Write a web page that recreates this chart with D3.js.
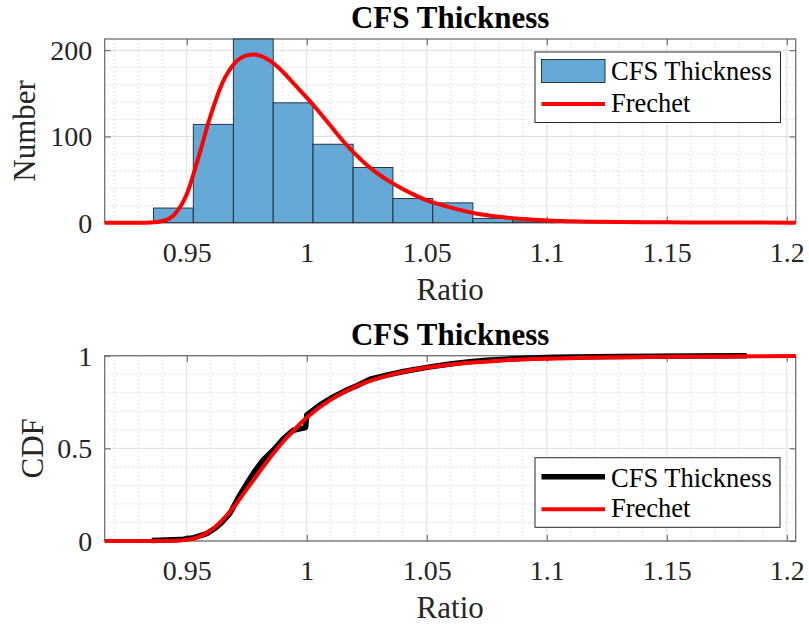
<!DOCTYPE html>
<html>
<head>
<meta charset="utf-8">
<script src="https://cdn.jsdelivr.net/npm/d3@7"></script>
<style>
  body { margin: 0; background: #fff; }
  svg { display: block; }
  svg text { font-family: 'Liberation Serif', 'Times New Roman', serif !important; }
</style>
</head>
<body>
<svg width="809" height="625"></svg>
<script>
// ---- data ----
const binEdges = [0.9361, 0.9527, 0.9694, 0.9860, 1.0026, 1.0193, 1.0359, 1.0525,
  1.0692, 1.0858, 1.1024, 1.1191, 1.1357, 1.1523, 1.1690, 1.1856];
const binCounts = [17, 114, 213, 139, 91, 64, 28, 23, 5, 2, 1, 1, 0, 1, 1];

// fitted Frechet pdf, scaled to counts
const pdfX = [0.9158, 0.930, 0.935, 0.940, 0.945, 0.950, 0.955, 0.960, 0.965, 0.970,
  0.975, 0.978, 0.980, 0.985, 0.990, 0.995, 1.000, 1.005, 1.010, 1.015, 1.020, 1.025,
  1.030, 1.035, 1.040, 1.045, 1.050, 1.055, 1.060, 1.065, 1.070, 1.080, 1.090, 1.100,
  1.120, 1.150, 1.180, 1.2037];
const pdfY = [0, 0, 0.3, 2, 10, 33, 77, 125, 163, 185,
  194, 195, 194, 187, 175, 160, 145, 129, 112, 95, 80, 67,
  56, 47, 39, 32, 26, 21.5, 17.5, 14, 11, 6.8, 4.2, 2.6,
  1.1, 0.4, 0.15, 0.05];

// empirical CDF of the sample
const ecdfX = [0.9354, 0.9420, 0.9486, 0.9530, 0.9583, 0.9620, 0.9646, 0.9680, 0.9722,
  0.9750, 0.9785, 0.9820, 0.9860, 0.9903, 0.9944, 0.9995, 1.0000, 1.0055, 1.0110, 1.0167,
  1.0215, 1.0264, 1.0333, 1.0403, 1.0500, 1.0597, 1.0680, 1.0750, 1.0900, 1.1028, 1.1300,
  1.1600, 1.1833];
const ecdfY = [0.003, 0.006, 0.010, 0.018, 0.040, 0.070, 0.100, 0.150, 0.250,
  0.310, 0.380, 0.440, 0.490, 0.553, 0.598, 0.612, 0.680, 0.735, 0.778, 0.815,
  0.842, 0.873, 0.895, 0.915, 0.937, 0.955, 0.968, 0.976, 0.986, 0.991, 0.996,
  0.999, 1.000];

// fitted Frechet CDF
const cdfFitX = [0.9158, 0.935, 0.945, 0.950, 0.955, 0.960, 0.965, 0.970, 0.975, 0.980,
  0.985, 0.990, 0.995, 1.000, 1.010, 1.020, 1.030, 1.040, 1.050, 1.060, 1.080, 1.100,
  1.150, 1.2037];
const cdfFitY = [0, 0.0005, 0.002, 0.006, 0.022, 0.057, 0.115, 0.190, 0.280, 0.368,
  0.455, 0.534, 0.604, 0.666, 0.763, 0.832, 0.879, 0.912, 0.936, 0.952, 0.973, 0.984,
  0.995, 0.998];

const xTicks = [0.95, 1, 1.05, 1.1, 1.15, 1.2];
const xTickLabels = ['0.95', '1', '1.05', '1.1', '1.15', '1.2'];
const histYTicks = [0, 100, 200];
const cdfYTicks = [0, 0.5, 1];
const cdfYTickLabels = ['0', '0.5', '1'];
const xDomain = [0.9158, 1.2037];
const histYMax = 213;

const svg = d3.select('svg');
const plotLeft = 104.7, plotRight = 795.7;
const topPanel = { top: 39, bottom: 222.7 };
const bottomPanel = { top: 355.7, bottom: 541 };

const axisColor = '#707070';
const barFill = '#65a9d7';
const fitRed = '#ff0000';
const serif = "'Liberation Serif', 'Times New Roman', serif";

const xScale = d3.scaleLinear().domain(xDomain).range([plotLeft, plotRight]);
const histY = d3.scaleLinear().domain([0, histYMax]).range([topPanel.bottom, topPanel.top]);
const cdfY = d3.scaleLinear().domain([0, 1]).range([bottomPanel.bottom, bottomPanel.top]);

const minorX = d3.range(92, 121).map(d => d / 100).filter(d => !xTicks.some(t => Math.abs(t - d) < 1e-9));

function drawGrid(g, yScale, minorY, majorY, panel) {
  const grid = g.append('g').attr('class', 'grid');
  // minor dotted grid
  grid.selectAll('line.mx').data(minorX).enter().append('line')
    .attr('x1', d => xScale(d)).attr('x2', d => xScale(d))
    .attr('y1', panel.top).attr('y2', panel.bottom)
    .attr('stroke', '#bdbdbd').attr('stroke-width', 0.8).attr('stroke-dasharray', '1,3');
  grid.selectAll('line.my').data(minorY).enter().append('line')
    .attr('x1', plotLeft).attr('x2', plotRight)
    .attr('y1', d => yScale(d)).attr('y2', d => yScale(d))
    .attr('stroke', '#bdbdbd').attr('stroke-width', 0.8).attr('stroke-dasharray', '1,3');
  // major solid grid
  grid.selectAll('line.gx').data(xTicks).enter().append('line')
    .attr('x1', d => xScale(d)).attr('x2', d => xScale(d))
    .attr('y1', panel.top).attr('y2', panel.bottom)
    .attr('stroke', '#dedede').attr('stroke-width', 1);
  grid.selectAll('line.gy').data(majorY).enter().append('line')
    .attr('x1', plotLeft).attr('x2', plotRight)
    .attr('y1', d => yScale(d)).attr('y2', d => yScale(d))
    .attr('stroke', '#dedede').attr('stroke-width', 1);
}

function createAxes(g, yScale, yTicks, yFormat, panel) {
  const styleAxis = sel => {
    sel.attr('font-family', serif);
    sel.select('path.domain').remove();
    sel.selectAll('line').attr('stroke', axisColor).attr('stroke-width', 1.2);
    sel.selectAll('text').attr('fill', '#262626').attr('font-size', 28);
  };
  const xAxisGroup = g.append('g')
    .attr('transform', `translate(0, ${panel.bottom})`)
    .call(d3.axisBottom(xScale).tickValues(xTicks)
      .tickFormat((d, i) => xTickLabels[i]).tickSize(-6).tickPadding(19));
  styleAxis(xAxisGroup);
  const xTopGroup = g.append('g')
    .attr('transform', `translate(0, ${panel.top})`)
    .call(d3.axisTop(xScale).tickValues(xTicks).tickFormat('').tickSize(-6));
  styleAxis(xTopGroup);

  const yAxisGroup = g.append('g')
    .attr('transform', `translate(${plotLeft}, 0)`)
    .call(d3.axisLeft(yScale).tickValues(yTicks).tickFormat(yFormat).tickSize(-6).tickPadding(12.5));
  styleAxis(yAxisGroup);
  yAxisGroup.selectAll('text').attr('dy', '0.34em');
  const yRightGroup = g.append('g')
    .attr('transform', `translate(${plotRight}, 0)`)
    .call(d3.axisRight(yScale).tickValues(yTicks).tickFormat('').tickSize(-6));
  styleAxis(yRightGroup);

  // axes box
  g.append('rect')
    .attr('x', plotLeft).attr('y', panel.top)
    .attr('width', plotRight - plotLeft).attr('height', panel.bottom - panel.top)
    .attr('fill', 'none').attr('stroke', axisColor).attr('stroke-width', 1.3);
}

function addLabels(g, panel, title, yLabel, yLabelX) {
  const midX = (plotLeft + plotRight) / 2;
  g.append('text')
    .attr('x', midX).attr('y', panel.top - 11)
    .attr('text-anchor', 'middle')
    .attr('font-family', serif).attr('font-size', 31).attr('font-weight', 'bold')
    .attr('fill', '#000')
    .text(title);
  g.append('text')
    .attr('x', midX).attr('y', panel.bottom + 77)
    .attr('text-anchor', 'middle')
    .attr('font-family', serif).attr('font-size', 31).attr('fill', '#262626')
    .text('Ratio');
  g.append('text')
    .attr('transform', `translate(${yLabelX}, ${(panel.top + panel.bottom) / 2}) rotate(-90)`)
    .attr('text-anchor', 'middle')
    .attr('font-family', serif).attr('font-size', 31).attr('fill', '#262626')
    .text(yLabel);
}

function renderLegend(g, box, firstSwatch) {
  const legend = g.append('g').attr('class', 'legend').attr('font-family', serif);
  legend.append('rect')
    .attr('x', box.x).attr('y', box.y).attr('width', box.w).attr('height', box.h)
    .attr('fill', '#fff').attr('stroke', '#262626').attr('stroke-width', 1);
  firstSwatch(legend);
  legend.append('line')
    .attr('x1', 541.5).attr('x2', 605).attr('y1', box.y2).attr('y2', box.y2)
    .attr('stroke', fitRed).attr('stroke-width', 4);
  legend.append('text')
    .attr('x', 611).attr('y', box.t1)
    .attr('font-size', 26.5).attr('fill', '#000').text('CFS Thickness');
  legend.append('text')
    .attr('x', 611).attr('y', box.t2)
    .attr('font-size', 26.5).attr('fill', '#000').text('Frechet');
}

const renderHistogram = () => {
  const chartArea = svg.append('g').attr('class', 'hist-panel');
  drawGrid(chartArea, histY, d3.range(20, 220, 20).filter(d => d % 100 !== 0), histYTicks, topPanel);
  createAxes(chartArea, histY, histYTicks, d => d, topPanel);

  const bins = binCounts.map((c, i) => ({ x0: binEdges[i], x1: binEdges[i + 1], count: c }))
    .filter(b => b.count > 0);
  chartArea.append('g').attr('class', 'bars')
    .selectAll('rect').data(bins).enter().append('rect')
    .attr('x', b => xScale(b.x0))
    .attr('y', b => histY(b.count))
    .attr('width', b => xScale(b.x1) - xScale(b.x0))
    .attr('height', b => histY(0) - histY(b.count))
    .attr('fill', barFill)
    .attr('stroke', '#1c2630').attr('stroke-width', 0.9);

  const pdfLine = d3.line()
    .x(d => xScale(d[0]))
    .y(d => histY(d[1]))
    .curve(d3.curveMonotoneX);
  chartArea.append('path')
    .attr('d', pdfLine(d3.zip(pdfX, pdfY)))
    .attr('fill', 'none').attr('stroke', fitRed).attr('stroke-width', 4)
    .attr('stroke-linejoin', 'round');

  addLabels(chartArea, topPanel, 'CFS Thickness', 'Number', 35);
  renderLegend(chartArea, { x: 535, y: 52, w: 245.5, h: 70.5, y2: 104, t1: 80, t2: 111.5 }, lg => {
    lg.append('rect')
      .attr('x', 541.5).attr('y', 59.5).attr('width', 63.5).attr('height', 23)
      .attr('fill', barFill).attr('stroke', '#1c2630').attr('stroke-width', 0.9);
  });
};

const renderCdf = () => {
  const chartArea = svg.append('g').attr('class', 'cdf-panel');
  drawGrid(chartArea, cdfY, d3.range(1, 10).map(d => d / 10).filter(d => d !== 0.5), cdfYTicks, bottomPanel);
  createAxes(chartArea, cdfY, cdfYTicks, (d, i) => cdfYTickLabels[i], bottomPanel);

  const lineGen = d3.line().x(d => xScale(d[0])).y(d => cdfY(d[1]));
  chartArea.append('path')
    .attr('d', lineGen(d3.zip(ecdfX, ecdfY)))
    .attr('fill', 'none').attr('stroke', '#000').attr('stroke-width', 5.5)
    .attr('stroke-linejoin', 'round');
  chartArea.append('path')
    .attr('d', lineGen.curve(d3.curveMonotoneX)(d3.zip(cdfFitX, cdfFitY)))
    .attr('fill', 'none').attr('stroke', fitRed).attr('stroke-width', 4)
    .attr('stroke-linejoin', 'round');

  addLabels(chartArea, bottomPanel, 'CFS Thickness', 'CDF', 43);
  renderLegend(chartArea, { x: 535, y: 457.7, w: 245, h: 69.6, y2: 509.3, t1: 486.7, t2: 516.7 }, lg => {
    lg.append('line')
      .attr('x1', 541.5).attr('x2', 605).attr('y1', 476.7).attr('y2', 476.7)
      .attr('stroke', '#000').attr('stroke-width', 5.5);
  });
};

renderHistogram();
renderCdf();
</script>
</body>
</html>
